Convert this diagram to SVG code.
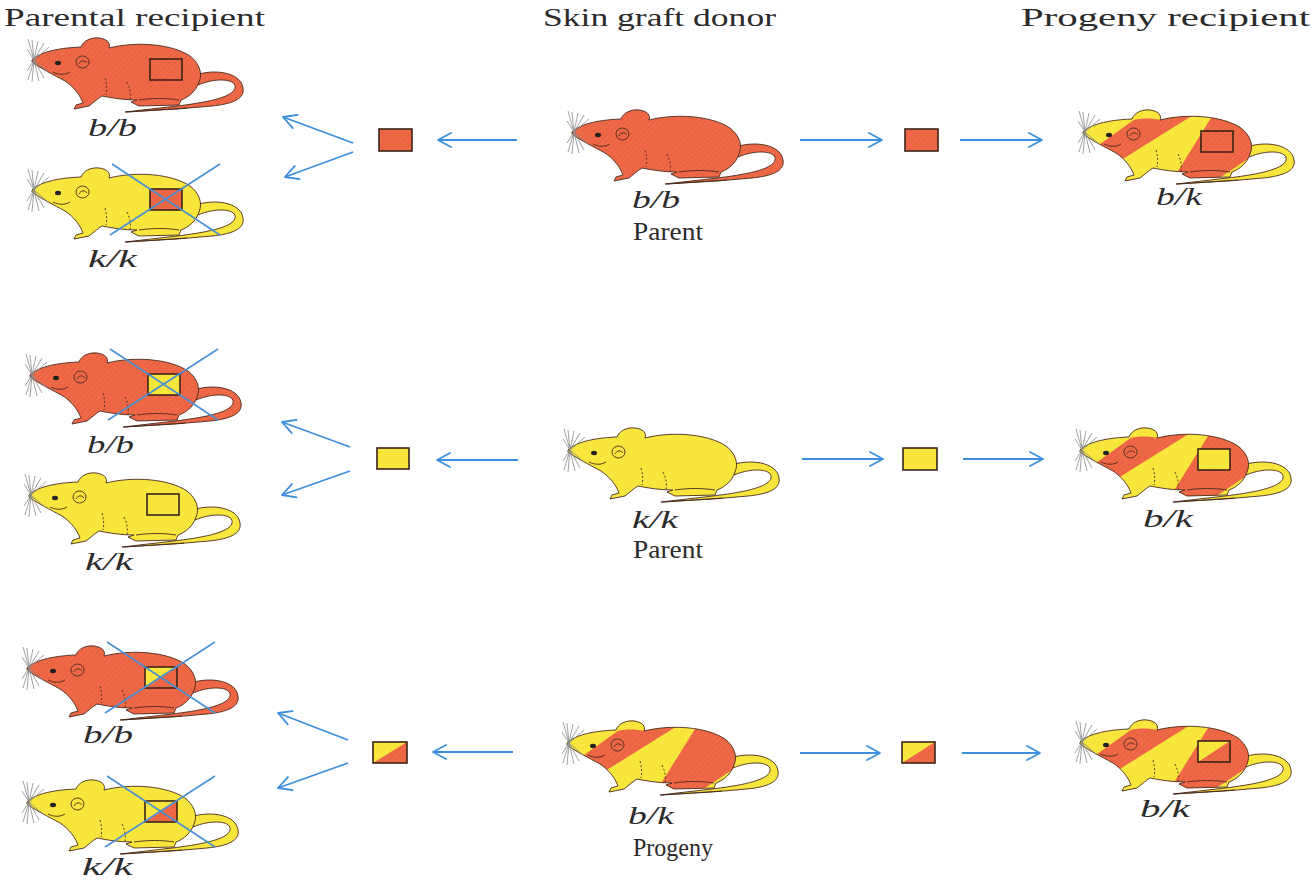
<svg xmlns="http://www.w3.org/2000/svg" xmlns:xlink="http://www.w3.org/1999/xlink" width="1314" height="887" viewBox="0 0 1314 887">
<style>
.title{font-family:"Liberation Serif","Times New Roman",serif;font-size:25px;fill:#2b2b2b}
.sub{font-family:"Liberation Serif","Times New Roman",serif;font-size:25px;fill:#2b2b2b}
.gt{font-family:"Liberation Serif","Times New Roman",serif;font-style:italic;font-size:25px;fill:#2b2b2b}
.arrow{stroke:#3d8fde;stroke-width:1.8;fill:none;marker-end:url(#ah)}
.cross{stroke:#4a8fd6;stroke-width:1.6}
.sq{stroke:#3a2418;stroke-width:1.6}
.red{fill:url(#hatch)}
.yel{fill:#F8E63C}
.no{fill:none}
.ol{stroke:#4a2a1e;stroke-width:0.9}
.wh{stroke:#8a8a8a;stroke-width:0.8;fill:none}
.dl{stroke:#4a2a1e;stroke-width:0.9;fill:none}
</style>
<defs>
<pattern id="hatch" patternUnits="userSpaceOnUse" width="4" height="4" patternTransform="rotate(45)">
<rect width="4" height="4" fill="#EF6947"/>
<line x1="0" y1="0" x2="0" y2="4" stroke="#E25A3C" stroke-width="1.2"/>
</pattern>
<marker id="ah" markerUnits="userSpaceOnUse" viewBox="-2 -9 17 18" markerWidth="17" markerHeight="18" refX="13" refY="0" orient="auto">
<path d="M0,-7 L13,0 L0,7" fill="none" stroke="#3d8fde" stroke-width="1.8" stroke-linecap="round" stroke-linejoin="round"/>
</marker>
<path id="body" d="M5,20 C12,13 28,8 54,7 C56,1 64,-3 72,-2 C80,-1 84,3 82,8 C110,1 145,4 163,16 C172,23 176,33 172,42 C169,51 162,57 154,60 L152,65 L112,66 L104,62 L110,60 C97,60 85,58 75,56 C70,59 66,63 62,66 L47,69 L49,65 L56,63 C53,55 47,47 38,41 C27,35 13,28 5,22 Z"/>
<path id="tail" d="M166,36 C186,28 214,32 216,48 C218,59 205,64 185,66 L150,69 L98,72 L150,66 C175,63 206,58 208,48 C210,39 190,37 171,45 Z"/>
<path id="ear" d="M55,8 C56,1 64,-3 72,-2 C80,-1 84,3 82,8 C74,6 64,6 55,8 Z"/>
<clipPath id="bodyClip"><use xlink:href="#body"/></clipPath>
<g id="det">
<ellipse cx="31" cy="23" rx="3" ry="2.2" fill="#222"/>
<path class="dl" d="M49,22 a6.5,6 0 1,1 13,0 a6.5,6 0 1,1 -13,0"/>
<path class="dl" d="M52,24 c2,-4 6,-4 8,-1"/>
<path class="dl" d="M26,32 C32,35 38,35 43,32"/>
<path class="dl" stroke-dasharray="2 2" d="M78,38 C80,45 80,50 79,55"/>
<path class="dl" stroke-dasharray="2 2" d="M100,42 C103,48 104,54 103,60"/>
<path class="dl" d="M112,60 C125,58 140,58 152,60"/>
<path class="dl" d="M100,72 L160,68"/>
<path class="wh" d="M7,20 L1,-1 M7,20 L5,0 M7,20 L11,1 M7,20 L17,3 M7,20 L22,7 M7,20 L1,40 M7,20 L5,42 M7,20 L12,41 M7,20 L17,38 M7,20 L22,33 M7,20 L0,9 M7,20 L0,31"/>
</g>
<g id="mR">
<use xlink:href="#tail" class="red ol"/>
<use xlink:href="#body" class="red ol"/>
<use xlink:href="#det"/>
</g>
<g id="mY">
<use xlink:href="#tail" class="yel ol"/>
<use xlink:href="#body" class="yel ol"/>
<use xlink:href="#det"/>
</g>
<g id="mS">
<use xlink:href="#tail" class="yel ol"/>
<use xlink:href="#body" class="yel"/>
<g clip-path="url(#bodyClip)">
<polygon points="-31,70 81,-10 136,-10 8,70" class="red"/>
<polygon points="90,75 143,-10 255,-10 128,75" class="red"/>
</g>
<use xlink:href="#ear" class="yel"/>
<use xlink:href="#body" class="no ol"/>
<use xlink:href="#det"/>
</g>
<g id="sqOpen"><rect x="123" y="19" width="32" height="21" class="sq no"/></g>
<g id="sqRed"><rect x="123" y="19" width="32" height="21" class="sq red"/></g>
<g id="sqYel"><rect x="123" y="19" width="32" height="21" class="sq yel"/></g>
<g id="sqSplit"><rect x="123" y="19" width="32" height="21" class="yel"/><polygon points="155,19 155,40 123,40" class="red"/><rect x="123" y="19" width="32" height="21" class="sq no"/></g>
<g id="xx"><line x1="85" y1="-6" x2="193" y2="65" class="cross"/><line x1="193" y1="-6" x2="83" y2="65" class="cross"/></g>
</defs>

<rect width="1314" height="887" fill="#ffffff"/>

<g id="titles">
<text class="title" x="4" y="26" textLength="261" lengthAdjust="spacingAndGlyphs">Parental recipient</text>
<text class="title" x="543" y="26" textLength="233" lengthAdjust="spacingAndGlyphs">Skin graft donor</text>
<text class="title" x="1021" y="26" textLength="289" lengthAdjust="spacingAndGlyphs">Progeny recipient</text>
</g>

<g id="connectors">
<line class="arrow" x1="517" y1="140" x2="438" y2="140"/>
<line class="arrow" x1="353" y1="143" x2="283" y2="117"/>
<line class="arrow" x1="353" y1="152" x2="285" y2="177"/>
<line class="arrow" x1="800" y1="140" x2="882" y2="140"/>
<line class="arrow" x1="960" y1="140" x2="1042" y2="140"/>

<line class="arrow" x1="518" y1="460" x2="437" y2="460"/>
<line class="arrow" x1="350" y1="447" x2="282" y2="422"/>
<line class="arrow" x1="350" y1="471" x2="282" y2="495"/>
<line class="arrow" x1="802" y1="459" x2="883" y2="459"/>
<line class="arrow" x1="963" y1="459" x2="1043" y2="459"/>

<line class="arrow" x1="513" y1="752" x2="433" y2="752"/>
<line class="arrow" x1="348" y1="740" x2="278" y2="713"/>
<line class="arrow" x1="348" y1="763" x2="278" y2="788"/>
<line class="arrow" x1="800" y1="753" x2="880" y2="753"/>
<line class="arrow" x1="962" y1="753" x2="1040" y2="753"/>
</g>

<!-- Row 1 -->
<g id="r1-recipient-bb">
<g transform="translate(27,40)"><use xlink:href="#mR"/><use xlink:href="#sqOpen"/></g>
<text class="gt" x="88" y="136" textLength="49" lengthAdjust="spacingAndGlyphs">b/b</text>
</g>
<g id="r1-recipient-kk">
<g transform="translate(27,170)"><use xlink:href="#mY"/><use xlink:href="#sqRed"/><use xlink:href="#xx"/></g>
<text class="gt" x="88" y="267" textLength="49" lengthAdjust="spacingAndGlyphs">k/k</text>
</g>
<g id="r1-graft-left"><rect x="379" y="129" width="33" height="22" class="sq red"/></g>
<g id="r1-donor">
<g transform="translate(567,112)"><use xlink:href="#mR"/></g>
<text class="gt" x="632" y="208" textLength="48" lengthAdjust="spacingAndGlyphs">b/b</text>
<text class="sub" x="633" y="240" textLength="70" lengthAdjust="spacingAndGlyphs">Parent</text>
</g>
<g id="r1-graft-right"><rect x="905" y="129" width="33" height="22" class="sq red"/></g>
<g id="r1-progeny-recipient">
<g transform="translate(1078,112)"><use xlink:href="#mS"/><use xlink:href="#sqOpen"/></g>
<text class="gt" x="1156" y="205" textLength="46" lengthAdjust="spacingAndGlyphs">b/k</text>
</g>

<!-- Row 2 -->
<g id="r2-recipient-bb">
<g transform="translate(25,355)"><use xlink:href="#mR"/><use xlink:href="#sqYel"/><use xlink:href="#xx"/></g>
<text class="gt" x="87" y="453" textLength="47" lengthAdjust="spacingAndGlyphs">b/b</text>
</g>
<g id="r2-recipient-kk">
<g transform="translate(24,475)"><use xlink:href="#mY"/><use xlink:href="#sqOpen"/></g>
<text class="gt" x="85" y="570" textLength="48" lengthAdjust="spacingAndGlyphs">k/k</text>
</g>
<g id="r2-graft-left"><rect x="377" y="448" width="32" height="21" class="sq yel"/></g>
<g id="r2-donor">
<g transform="translate(563,430)"><use xlink:href="#mY"/></g>
<text class="gt" x="632" y="528" textLength="46" lengthAdjust="spacingAndGlyphs">k/k</text>
<text class="sub" x="633" y="558" textLength="70" lengthAdjust="spacingAndGlyphs">Parent</text>
</g>
<g id="r2-graft-right"><rect x="903" y="448" width="34" height="22" class="sq yel"/></g>
<g id="r2-progeny-recipient">
<g transform="translate(1075,430)"><use xlink:href="#mS"/><use xlink:href="#sqYel"/></g>
<text class="gt" x="1143" y="527" textLength="50" lengthAdjust="spacingAndGlyphs">b/k</text>
</g>

<!-- Row 3 -->
<g id="r3-recipient-bb">
<g transform="translate(22,648)"><use xlink:href="#mR"/><use xlink:href="#sqSplit"/><use xlink:href="#xx"/></g>
<text class="gt" x="83" y="743" textLength="50" lengthAdjust="spacingAndGlyphs">b/b</text>
</g>
<g id="r3-recipient-kk">
<g transform="translate(22,782)"><use xlink:href="#mY"/><use xlink:href="#sqSplit"/><use xlink:href="#xx"/></g>
<text class="gt" x="82" y="875" textLength="51" lengthAdjust="spacingAndGlyphs">k/k</text>
</g>
<g id="r3-graft-left">
<rect x="373" y="742" width="34" height="21" class="yel"/>
<polygon points="407,742 407,763 373,763" class="red"/>
<rect x="373" y="742" width="34" height="21" class="sq no"/>
</g>
<g id="r3-donor">
<g transform="translate(562,723)"><use xlink:href="#mS"/></g>
<text class="gt" x="628" y="824" textLength="46" lengthAdjust="spacingAndGlyphs">b/k</text>
<text class="sub" x="633" y="856" textLength="80" lengthAdjust="spacingAndGlyphs">Progeny</text>
</g>
<g id="r3-graft-right">
<rect x="902" y="742" width="33" height="21" class="yel"/>
<polygon points="935,742 935,763 902,763" class="red"/>
<rect x="902" y="742" width="33" height="21" class="sq no"/>
</g>
<g id="r3-progeny-recipient">
<g transform="translate(1075,722)"><use xlink:href="#mS"/><use xlink:href="#sqSplit"/></g>
<text class="gt" x="1140" y="817" textLength="50" lengthAdjust="spacingAndGlyphs">b/k</text>
</g>
</svg>
